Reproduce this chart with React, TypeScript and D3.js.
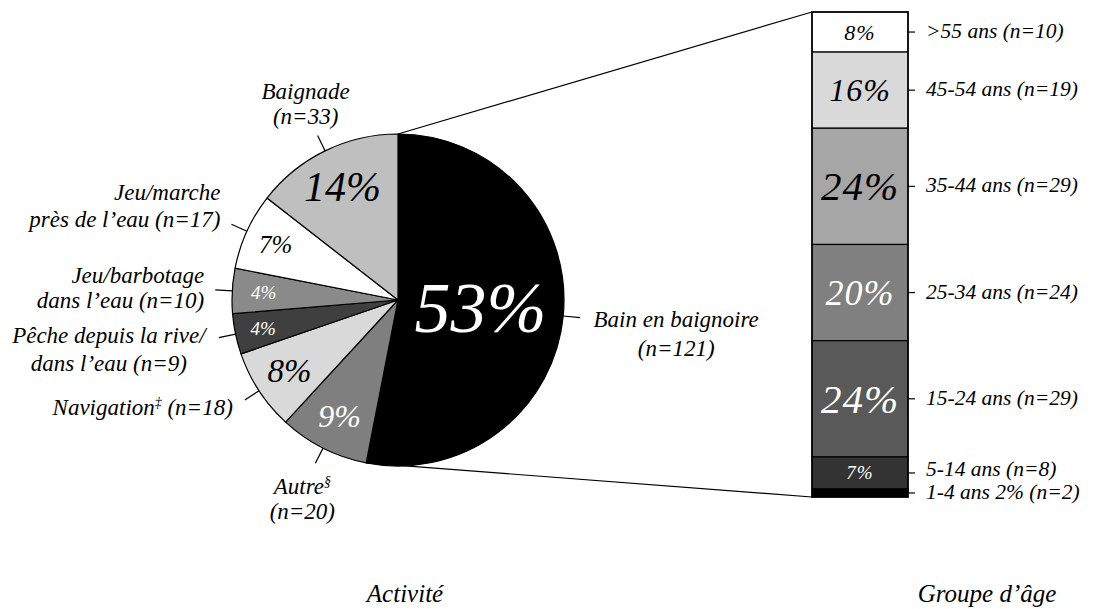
import React from 'react';
import * as d3 from 'd3';

// ---------- DATA ----------
const activities = [
  'Bain en baignoire',
  'Autre',
  'Navigation',
  'Pêche depuis la rive/dans l’eau',
  'Jeu/barbotage dans l’eau',
  'Jeu/marche près de l’eau',
  'Baignade',
];
const activityCounts = [121, 20, 18, 9, 10, 17, 33];
const activityPct = ['53%', '9%', '8%', '4%', '4%', '7%', '14%'];
const activityLabelLines = [
  ['Bain en baignoire', '(n=121)'],
  ['Autre§', '(n=20)'],
  ['Navigation‡ (n=18)'],
  ['Pêche depuis la rive/', 'dans l’eau (n=9)'],
  ['Jeu/barbotage', 'dans l’eau (n=10)'],
  ['Jeu/marche', 'près de l’eau (n=17)'],
  ['Baignade', '(n=33)'],
];

const ageGroups = ['>55 ans', '45-54 ans', '35-44 ans', '25-34 ans', '15-24 ans', '5-14 ans', '1-4 ans'];
const ageCounts = [10, 19, 29, 24, 29, 8, 2];
const agePct = ['8%', '16%', '24%', '20%', '24%', '7%', '2%'];

const titleLeft = 'Activité';
const titleRight = 'Groupe d’âge';

// ---------- STYLES / LAYOUT ----------
const W = 1097;
const H = 609;
const pieFill = ['#000000', '#7f7f7f', '#d9d9d9', '#3f3f3f', '#8a8a8a', '#ffffff', '#bfbfbf'];
const piePctColor = ['#fff', '#fff', '#000', '#fff', '#fff', '#000', '#000'];
const piePctSize = [72, 32, 33, 19, 19, 25, 42];
const piePctRadius = [0.5, 0.78, 0.78, 0.83, 0.81, 0.81, 0.76];
// label offsets relative to the leader end point
const pieLabelLayout = [
  { dx: 96, dy: 9, anchor: 'middle', lh: 29 },
  { dx: -13, dy: 31, anchor: 'middle', lh: 25 },
  { dx: -12, dy: 15, anchor: 'end', lh: 27 },
  { dx: -110, dy: 5, anchor: 'middle', lh: 28 },
  { dx: -11, dy: -7, anchor: 'end', lh: 25 },
  { dx: -11, dy: -24, anchor: 'end', lh: 27 },
  { dx: -12, dy: -37, anchor: 'middle', lh: 25 },
];
const barFill = ['#ffffff', '#d9d9d9', '#a6a6a6', '#808080', '#595959', '#333333', '#000000'];
const barPctColor = ['#000', '#000', '#000', '#fff', '#fff', '#fff', '#fff'];
const barPctSize = [22, 32, 41, 36, 41, 19, 0];
const barLabelNudge = [0, 0, 0, 0, 0, -3, 0];

const CSS = `
.t { font-family: 'Liberation Serif'; font-style: italic; }
`;

function renderLine(text: string, size: number) {
  const parts = text.split(/([‡§])/);
  return parts.map((p, i) =>
    p === '‡' || p === '§' ? (
      <tspan key={i} fontSize={size * 0.6} dy={-size * 0.35}>
        {p}
      </tspan>
    ) : i > 0 && (parts[i - 1] === '‡' || parts[i - 1] === '§') ? (
      <tspan key={i} dy={size * 0.35}>
        {p}
      </tspan>
    ) : (
      <tspan key={i}>{p}</tspan>
    )
  );
}

export default function App() {
  const cx = 398;
  const cy = 300;
  const r = 166;

  const pie = d3
    .pie<number>()
    .sort(null)
    .value((d) => d)
    .startAngle(0)
    .endAngle(2 * Math.PI);
  const arcs = pie(activityCounts);
  const arcGen = d3.arc<d3.PieArcDatum<number>>().innerRadius(0).outerRadius(r);

  const polar = (a: number, rr: number): [number, number] => [cx + rr * Math.sin(a), cy - rr * Math.cos(a)];

  const barX0 = 812;
  const barW = 96;
  const total = d3.sum(ageCounts);
  const y = d3.scaleLinear().domain([0, total]).range([12, 497]);
  const cum = [0, ...d3.cumsum(ageCounts)];
  const segs = ageCounts.map((c, i) => ({ y0: y(cum[i]), y1: y(cum[i + 1]), i }));

  const top = polar(arcs[0].startAngle, r);
  const bot = polar(arcs[0].endAngle, r);

  const labelSize = 23;
  const barLabelSize = 21.5;

  return (
    <svg
      width={W}
      height={H}
      style={{ position: 'absolute', left: 0, top: 0, background: '#fff' }}
      fontFamily="Liberation Serif"
    >
      <style>{CSS}</style>
      <line x1={top[0]} y1={top[1]} x2={barX0} y2={y(0)} stroke="#000" strokeWidth={1.2} />
      <line x1={bot[0]} y1={bot[1]} x2={barX0} y2={y(total)} stroke="#000" strokeWidth={1.2} />

      <g transform={`translate(${cx},${cy})`}>
        {arcs.map((a, i) => (
          <path key={i} d={arcGen(a) as string} fill={pieFill[i]} stroke="#000" strokeWidth={1.2} strokeLinejoin="round" />
        ))}
      </g>
      {arcs.map((a, i) => {
        const mid = (a.startAngle + a.endAngle) / 2;
        const [px, py] = polar(mid, r * piePctRadius[i]);
        return (
          <text
            key={'p' + i}
            className="t"
            x={px}
            y={py}
            textAnchor="middle"
            dominantBaseline="central"
            fontSize={piePctSize[i]}
            fill={piePctColor[i]}
          >
            {activityPct[i]}
          </text>
        );
      })}
      {arcs.map((a, i) => {
        const mid = (a.startAngle + a.endAngle) / 2;
        const [x1, y1] = polar(mid, r);
        const [x2, y2] = polar(mid, r + 17);
        const L = pieLabelLayout[i];
        return (
          <g key={'l' + i}>
            <line x1={x1} y1={y1} x2={x2} y2={y2} stroke="#000" strokeWidth={1.2} />
            {activityLabelLines[i].map((t, j) => (
              <text
                key={j}
                className="t"
                x={x2 + L.dx}
                y={y2 + L.dy + j * L.lh}
                textAnchor={L.anchor as any}
                fontSize={labelSize}
                fill="#000"
              >
                {renderLine(t, labelSize)}
              </text>
            ))}
          </g>
        );
      })}

      {segs.map((s) => (
        <rect
          key={'b' + s.i}
          x={barX0}
          y={s.y0}
          width={barW}
          height={s.y1 - s.y0}
          fill={barFill[s.i]}
          stroke="#000"
          strokeWidth={1.2}
        />
      ))}
      <rect x={barX0} y={y(0)} width={barW} height={y(total) - y(0)} fill="none" stroke="#000" strokeWidth={1.5} />
      {segs.map((s) => {
        const h = s.y1 - s.y0;
        const m = (s.y0 + s.y1) / 2;
        const small = h < 15;
        return (
          <g key={'bl' + s.i}>
            {!small && (
              <text
                className="t"
                x={barX0 + barW / 2}
                y={m}
                textAnchor="middle"
                dominantBaseline="central"
                fontSize={barPctSize[s.i]}
                letterSpacing={1}
                fill={barPctColor[s.i]}
              >
                {agePct[s.i]}
              </text>
            )}
            <line x1={barX0 + barW} y1={m} x2={barX0 + barW + 7} y2={m} stroke="#000" strokeWidth={1.2} />
            <text
              className="t"
              x={barX0 + barW + 18}
              y={m + 6 + barLabelNudge[s.i]}
              fontSize={barLabelSize}
              fill="#000"
            >
              {small
                ? `${ageGroups[s.i]} ${agePct[s.i]} (n=${ageCounts[s.i]})`
                : `${ageGroups[s.i]} (n=${ageCounts[s.i]})`}
            </text>
          </g>
        );
      })}

      <text className="t" x={405} y={602} textAnchor="middle" fontSize={25}>
        {titleLeft}
      </text>
      <text className="t" x={987} y={602} textAnchor="middle" fontSize={25}>
        {titleRight}
      </text>
    </svg>
  );
}
